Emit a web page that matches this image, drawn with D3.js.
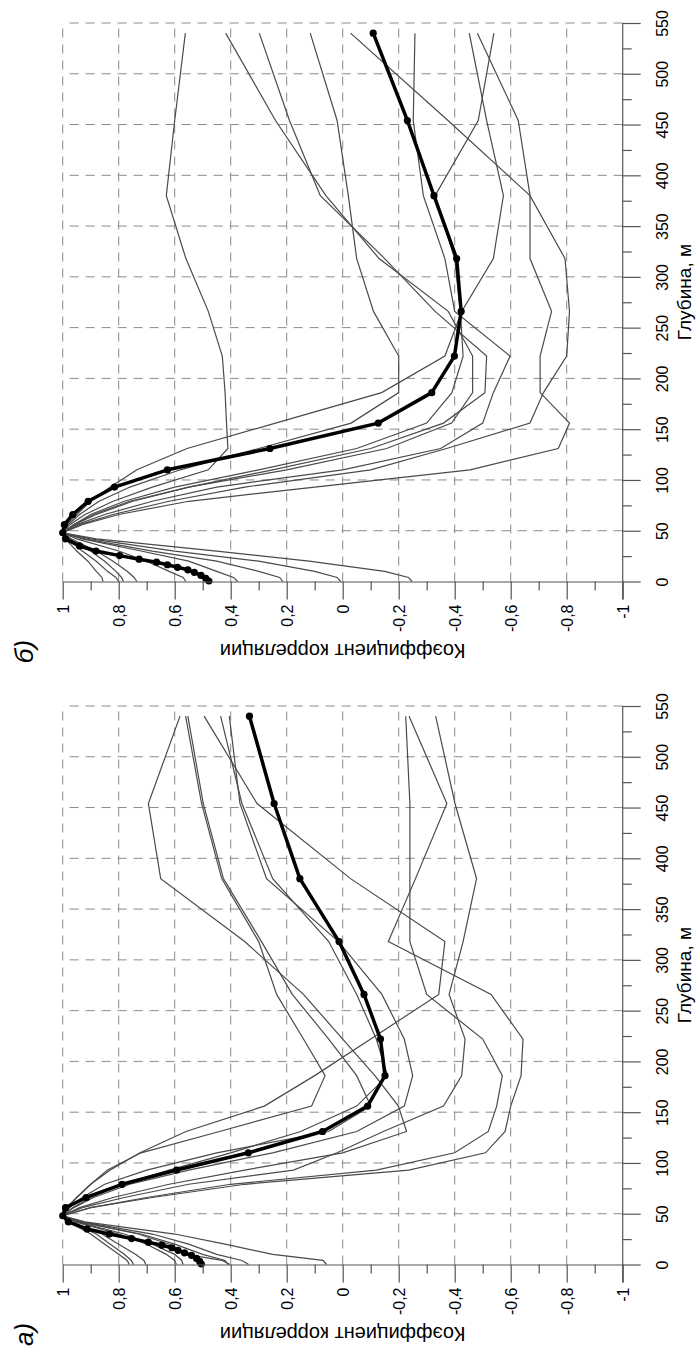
<!DOCTYPE html>
<html>
<head>
<meta charset="utf-8">
<script src="https://cdn.jsdelivr.net/npm/d3@7"></script>
<style>
body { margin: 0; background: #fff; }
svg text { font-family: "Liberation Sans", Arial, sans-serif; fill: #000; }
</style>
</head>
<body>
<div id="chart"></div>
<script>
// depth levels, m
var depthThick = [0.5, 3, 6, 9, 11.5, 14, 16.5, 19, 22, 25.5, 30, 35, 42, 48, 56, 66, 79, 93, 110, 131, 156, 186, 222, 266, 318, 380, 454, 540];
var depthThin = [0, 4, 10, 20, 30, 42, 48, 56, 66, 79, 93, 110, 131, 156, 186, 222, 266, 318, 380, 454, 540];

var corrTicks = [1, 0.8, 0.6, 0.4, 0.2, 0, -0.2, -0.4, -0.6, -0.8, -1];
var corrLabels = ["1", "0,8", "0,6", "0,4", "0,2", "0", "-0,2", "-0,4", "-0,6", "-0,8", "-1"];
var corrMinor = [0.9, 0.7, 0.5, 0.3, 0.1, -0.1, -0.3, -0.5, -0.7, -0.9];
var depthTicks = [0, 50, 100, 150, 200, 250, 300, 350, 400, 450, 500, 550];
var depthMinor = [25, 75, 125, 175, 225, 275, 325, 375, 425, 475, 525];

// panel б (top)
var meanB = [0.478, 0.489, 0.506, 0.530, 0.553, 0.590, 0.626, 0.665, 0.727, 0.797, 0.881, 0.94, 0.99, 1.0, 0.994, 0.964, 0.909, 0.815, 0.626, 0.26, -0.127, -0.318, -0.399, -0.423, -0.407, -0.326, -0.231, -0.109];
var stationsB = [
  [0.80, 0.81, 0.84, 0.88, 0.93, 0.98, 1, 0.975, 0.92, 0.82, 0.68, 0.48, 0.41, 0.415, 0.42, 0.43, 0.48, 0.56, 0.63, 0.60, 0.562],
  [0.783, 0.79, 0.81, 0.85, 0.9, 0.975, 1, 0.96, 0.88, 0.75, 0.55, 0.2, -0.157, -0.389, -0.464, -0.464, -0.377, -0.13, 0.06, 0.24, 0.418],
  [0.735, 0.745, 0.77, 0.82, 0.88, 0.97, 1, 0.96, 0.89, 0.76, 0.55, 0.25, -0.10, -0.36, -0.508, -0.514, -0.33, -0.15, 0.08, 0.19, 0.298],
  [0.56, 0.57, 0.62, 0.7, 0.8, 0.95, 1, 0.98, 0.94, 0.87, 0.76, 0.58, 0.30, -0.03, -0.20, -0.20, -0.11, -0.05, -0.02, 0.02, 0.116],
  [0.375, 0.39, 0.45, 0.55, 0.72, 0.93, 1, 0.95, 0.85, 0.68, 0.45, 0.0, -0.35, -0.5, -0.538, -0.598, -0.40, -0.365, -0.288, -0.252, -0.258],
  [0.856, 0.86, 0.88, 0.91, 0.95, 0.99, 1, 0.985, 0.95, 0.9, 0.83, 0.735, 0.556, 0.24, -0.139, -0.365, -0.425, -0.538, -0.574, -0.514, -0.452],
  [-0.248, -0.235, -0.15, 0.12, 0.45, 0.88, 1, 0.93, 0.8, 0.55, 0.10, -0.455, -0.77, -0.81, -0.705, -0.705, -0.746, -0.669, -0.669, -0.627, -0.481],
  [0.214, 0.225, 0.3, 0.45, 0.68, 0.92, 1, 0.96, 0.9, 0.78, 0.6, 0.3, -0.05, -0.30, -0.39, -0.43, -0.42, -0.40, -0.33, -0.484, -0.54],
  [0.007, 0.02, 0.1, 0.3, 0.6, 0.9, 1, 0.94, 0.82, 0.62, 0.35, -0.1, -0.371, -0.669, -0.717, -0.80, -0.81, -0.794, -0.669, -0.376, -0.028]
];

// panel а (bottom)
var meanA = [0.505, 0.511, 0.522, 0.54, 0.565, 0.588, 0.61, 0.646, 0.694, 0.754, 0.834, 0.913, 0.98, 1.0, 0.99, 0.916, 0.788, 0.593, 0.337, 0.072, -0.089, -0.151, -0.135, -0.076, 0.013, 0.153, 0.245, 0.333];
var stationsA = [
  [0.058, 0.07, 0.25, 0.42, 0.6, 0.92, 1, 0.94, 0.82, 0.62, 0.35, 0.0, -0.228, -0.199, -0.115, 0.0, 0.14, 0.35, 0.650, 0.694, 0.581],
  [0.762, 0.77, 0.8, 0.85, 0.9, 0.98, 1, 0.985, 0.95, 0.9, 0.84, 0.72, 0.44, 0.111, 0.063, 0.14, 0.236, 0.30, 0.432, 0.504, 0.561],
  [0.747, 0.755, 0.78, 0.83, 0.88, 0.975, 1, 0.975, 0.93, 0.85, 0.7, 0.45, 0.05, -0.1, -0.05, 0.05, 0.18, 0.29, 0.426, 0.498, 0.553],
  [0.703, 0.71, 0.74, 0.8, 0.86, 0.97, 1, 0.985, 0.95, 0.9, 0.83, 0.724, 0.56, 0.28, 0.10, -0.10, -0.343, -0.365, -0.028, 0.306, 0.495],
  [0.594, 0.60, 0.63, 0.7, 0.8, 0.955, 1, 0.965, 0.9, 0.79, 0.62, 0.4, 0.15, -0.05, -0.16, -0.12, -0.05, 0.05, 0.25, 0.36, 0.436],
  [0.57, 0.575, 0.6, 0.68, 0.78, 0.95, 1, 0.96, 0.89, 0.76, 0.55, 0.25, -0.05, -0.22, -0.25, -0.22, -0.14, 0.015, 0.272, 0.367, 0.405],
  [0.409, 0.42, 0.5, 0.6, 0.72, 0.94, 1, 0.9, 0.7, 0.4, -0.12, -0.40, -0.52, -0.55, -0.57, -0.50, -0.30, -0.24, -0.24, -0.24, -0.225],
  [0.403, 0.43, 0.56, 0.62, 0.73, 0.94, 1, 0.9, 0.68, 0.35, -0.236, -0.51, -0.58, -0.60, -0.637, -0.644, -0.53, -0.163, -0.26, -0.372, -0.237],
  [0.336, 0.36, 0.45, 0.55, 0.68, 0.93, 1, 0.93, 0.78, 0.55, 0.176, 0.02, -0.145, -0.36, -0.425, -0.437, -0.38, -0.43, -0.478, -0.401, -0.332]
];

var svg = d3.select("#chart").append("svg")
    .attr("width", 698)
    .attr("height", 1358);

var x = d3.scaleLinear().domain([1, -1]).range([62.7, 622.7]);

function drawPanel(y0, stations, mean, letter) {
  var y = d3.scaleLinear().domain([0, 550]).range([y0, y0 - 558.5]);
  var g = svg.append("g");

  // dashed grid
  g.append("g").selectAll("line")
    .data(corrTicks.slice(0, 10))
    .join("line")
      .attr("x1", function(d) { return x(d); })
      .attr("x2", function(d) { return x(d); })
      .attr("y1", y(0))
      .attr("y2", y(550))
      .attr("stroke", "#8a8a8a")
      .attr("stroke-dasharray", "9,7");
  g.append("g").selectAll("line")
    .data(depthTicks.slice(1))
    .join("line")
      .attr("x1", x(-1))
      .attr("x2", x(1))
      .attr("y1", function(d) { return y(d); })
      .attr("y2", function(d) { return y(d); })
      .attr("stroke", "#8a8a8a")
      .attr("stroke-dasharray", "9,7");

  var line = d3.line()
    .x(function(d) { return x(d[1]); })
    .y(function(d) { return y(d[0]); });

  g.append("g").selectAll("path")
    .data(stations)
    .join("path")
      .attr("d", function(s) { return line(d3.zip(depthThin, s)); })
      .attr("fill", "none")
      .attr("stroke", "#4a4a4a")
      .attr("stroke-width", 1.2);

  var pts = d3.zip(depthThick, mean);
  g.append("path")
    .attr("d", line(pts))
    .attr("fill", "none")
    .attr("stroke", "#000")
    .attr("stroke-width", 3.5)
    .attr("stroke-linejoin", "round");
  g.append("g").selectAll("circle")
    .data(pts)
    .join("circle")
      .attr("cx", function(d) { return x(d[1]); })
      .attr("cy", function(d) { return y(d[0]); })
      .attr("r", 3.6)
      .attr("fill", "#000");

  // correlation axis (bottom of the rotated plot)
  var ax = g.append("g").attr("transform", "translate(0," + y(0) + ")");
  ax.append("g")
    .call(d3.axisBottom(x).tickValues(corrMinor).tickSize(9).tickSizeOuter(0).tickFormat(""))
    .call(function(s) { s.select(".domain").remove(); });
  ax.append("g")
    .call(d3.axisBottom(x).tickValues(corrTicks).tickSize(18).tickSizeOuter(0)
      .tickFormat(function(d, i) { return corrLabels[i]; }))
    .call(function(s) {
      s.selectAll("text")
        .attr("y", null).attr("x", null)
        .attr("dy", "0.35em")
        .attr("text-anchor", "end")
        .attr("transform", "translate(0,23) rotate(-90)")
        .style("font-size", "16px");
    });

  // depth axis (right)
  var ay = g.append("g").attr("transform", "translate(" + x(-1) + ",0)");
  ay.append("g")
    .call(d3.axisRight(y).tickValues(depthMinor).tickSize(9).tickSizeOuter(0).tickFormat(""))
    .call(function(s) { s.select(".domain").remove(); });
  ay.append("g")
    .call(d3.axisRight(y).tickValues(depthTicks).tickSize(18).tickSizeOuter(0).tickFormat(d3.format("d")))
    .call(function(s) {
      s.select(".domain").attr("d", "M0," + (y(0) + 18) + "V" + y(550));
      s.selectAll("text")
        .attr("x", null).attr("dy", null)
        .attr("text-anchor", "middle")
        .attr("transform", "translate(45,0) rotate(-90)")
        .style("font-size", "16px");
    });

  svg.selectAll(".tick line, .domain").attr("stroke", "#555").attr("stroke-width", 1.2);

  // titles
  g.append("text")
    .attr("transform", "translate(" + x(0) + "," + (y(0) + 62) + ") rotate(180)")
    .attr("text-anchor", "middle")
    .style("font-size", "20px")
    .text("Коэффициент корреляции");
  g.append("text")
    .attr("transform", "translate(" + (x(-1) + 68) + "," + y(285) + ") rotate(-90)")
    .attr("text-anchor", "middle")
    .style("font-size", "19px")
    .text("Глубина, м");
  g.append("text")
    .attr("transform", "translate(33," + (y(0) + 70) + ") rotate(-90)")
    .attr("text-anchor", "middle")
    .style("font-size", "26px")
    .style("font-style", "italic")
    .text(letter);
}

drawPanel(581.5, stationsB, meanB, "б)");
drawPanel(1264.5, stationsA, meanA, "а)");
</script>
</body>
</html>
